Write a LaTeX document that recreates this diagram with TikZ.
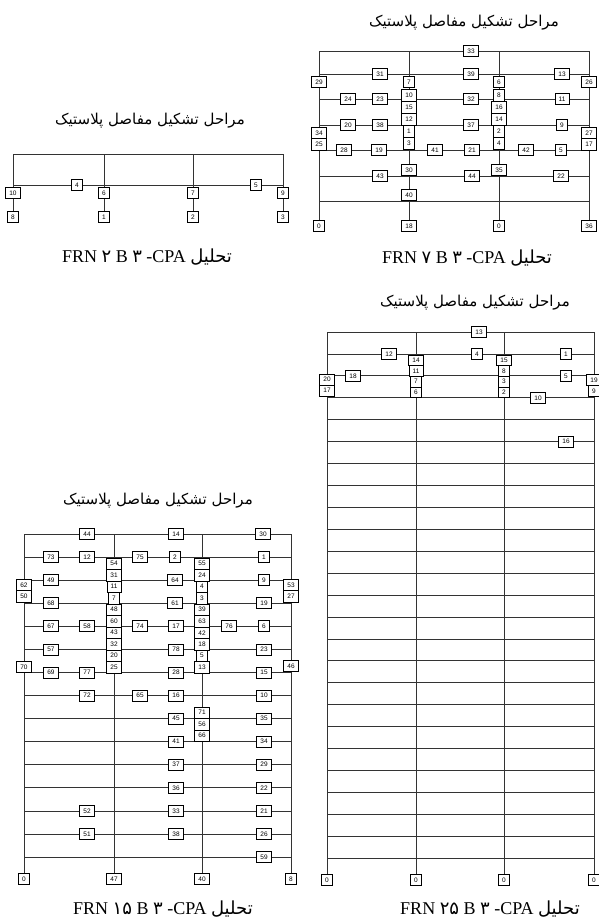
\documentclass[tikz,border=0pt]{standalone}
\usepackage{fontspec}
\usepackage{tikz}
\setmainfont{Liberation Serif}
\newfontfamily\numfont{Liberation Sans}
\newfontfamily\arabicfont[Script=Arabic]{DejaVu Sans}
\TeXXeTstate=1
\tikzset{
    member/.style = {line width = 0.7pt, black!80},
    hinge/.style = {draw, fill = white, line width = 0.6pt, inner xsep = 3.8pt, inner ysep = 0pt,
        minimum height = 11pt, font = \numfont\fontsize{6.5}{6.5}\selectfont},
    stagetitle/.style = {font = \arabicfont\fontsize{15}{15}\selectfont},
    framecaption/.style = {font = \fontsize{18}{18}\selectfont}
}
\newcommand{\hingetitle}{\beginR مراحل تشکیل مفاصل پلاستیک\endR}
\newcommand{\frncaption}[1]{FRN {\arabicfont #1} B {\arabicfont ۳} -CPA {\arabicfont\beginR تحلیل\endR}}

\begin{document}
\begin{tikzpicture}[x = 1pt, y = -1pt]
    \useasboundingbox (0,0) rectangle (599,921);

    \foreach \x/\s [count=\i] in {13/8, 104/1, 193/2, 283/3} {
        \coordinate (a-t\i) at (\x,154);
        \node at (\x,217) [hinge] (a-s\i) {\s};
        \draw [member] (a-t\i) -- (a-s\i);
    }
    \foreach \y [count=\r] in {154,185} {
        \coordinate (a-l\r) at (13,\y);
        \coordinate (a-r\r) at (283,\y);
        \draw [member] (a-l\r) -- (a-r\r);
    }
    \foreach \x/\y/\h in {13/193/10, 104/193/6, 193/193/7, 283/193/9, 77/185/4, 256/185/5}
        \node at (\x,\y) [hinge] (a-h\h) {\h};
    \node at (150,121) [stagetitle] (a-title) {\hingetitle};
    \node at (147,257) [framecaption] (a-caption) {\frncaption{۲}};

    \foreach \x/\s [count=\i] in {319/0, 409/18, 499/0, 589/36} {
        \coordinate (b-t\i) at (\x,51);
        \node at (\x,226) [hinge] (b-s\i) {\s};
        \draw [member] (b-t\i) -- (b-s\i);
    }
    \foreach \y [count=\r] in {51,74,99,125,150,176,201} {
        \coordinate (b-l\r) at (319,\y);
        \coordinate (b-r\r) at (589,\y);
        \draw [member] (b-l\r) -- (b-r\r);
    }
    \foreach \x/\y/\h in {471/51/33, 380/74/31, 471/74/39, 562/74/13,
        348/99/24, 380/99/23, 471/99/32, 562/99/11, 348/125/20, 380/125/38, 471/125/37, 562/125/9,
        344/150/28, 379/150/19, 435/150/41, 472/150/21, 526/150/42, 561/150/5,
        380/176/43, 472/176/44, 561/176/22,
        319/82/29, 409/82/7, 499/82/6, 589/82/26, 409/170/30, 499/170/35, 409/195/40}
        \node at (\x,\y) [hinge] (b-h\h) {\h};
    \foreach \h [count=\i] in {10,15,12,1,3}
        \node at (409,{83+12*\i}) [hinge, minimum height = 12pt] (b-h\h) {\h};
    \foreach \h [count=\i] in {8,16,14,2,4}
        \node at (499,{83+12*\i}) [hinge, minimum height = 12pt] (b-h\h) {\h};
    \foreach \h/\k [count=\i] in {34/27,25/17} {
        \node at (319,{121.5+11.5*\i}) [hinge, minimum height = 11.5pt] (b-h\h) {\h};
        \node at (589,{121.5+11.5*\i}) [hinge, minimum height = 11.5pt] (b-h\k) {\k};
    }
    \node at (464,23) [stagetitle] (b-title) {\hingetitle};
    \node at (467,258) [framecaption] (b-caption) {\frncaption{۷}};

    \foreach \x/\s [count=\i] in {24/0, 114/47, 202/40, 291/8} {
        \coordinate (c-t\i) at (\x,534);
        \node at (\x,879) [hinge] (c-s\i) {\s};
        \draw [member] (c-t\i) -- (c-s\i);
    }
    \foreach \r in {1,...,15} {
        \coordinate (c-l\r) at (24,{534+23.07*(\r-1)});
        \coordinate (c-r\r) at (291,{534+23.07*(\r-1)});
        \draw [member] (c-l\r) -- (c-r\r);
    }
    \foreach \r/\x/\h in {1/87/44, 1/176/14, 1/263/30,
        2/51/73, 2/87/12, 2/140/75, 2/175/2, 2/264/1,
        3/51/49, 3/175/64, 3/264/9, 4/51/68, 4/175/61, 4/264/19,
        5/51/67, 5/87/58, 5/140/74, 5/176/17, 5/229/76, 5/264/6,
        6/51/57, 6/176/78, 6/264/23, 7/51/69, 7/87/77, 7/176/28, 7/264/15,
        8/87/72, 8/140/65, 8/176/16, 8/264/10, 9/176/45, 9/264/35,
        10/176/41, 10/264/34, 11/176/37, 11/264/29, 12/176/36, 12/264/22,
        13/87/52, 13/176/33, 13/264/21, 14/87/51, 14/176/38, 14/264/26, 15/264/59}
        \node at (\x,{534+23.07*(\r-1)}) [hinge] (c-h\h) {\h};
    \foreach \h [count=\i] in {54,31,11,7,48,60,43,32,20,25}
        \node at (114,{552.25+11.5*\i}) [hinge, minimum height = 11.5pt] (c-h\h) {\h};
    \foreach \h [count=\i] in {55,24,4,3,39,63,42,18,5,13}
        \node at (202,{552.25+11.5*\i}) [hinge, minimum height = 11.5pt] (c-h\h) {\h};
    \foreach \h [count=\i] in {71,56,66}
        \node at (202,{701.25+11.5*\i}) [hinge, minimum height = 11.5pt] (c-h\h) {\h};
    \foreach \h/\k [count=\i] in {62/53,50/27} {
        \node at (24,{573.5+11.5*\i}) [hinge, minimum height = 11.5pt] (c-h\h) {\h};
        \node at (291,{573.5+11.5*\i}) [hinge, minimum height = 11.5pt] (c-h\k) {\k};
    }
    \node at (24,667) [hinge] (c-h70) {70};
    \node at (291,666) [hinge] (c-h46) {46};
    \node at (158,501) [stagetitle] (c-title) {\hingetitle};
    \node at (163,909) [framecaption] (c-caption) {\frncaption{۱۵}};

    \foreach \x [count=\i] in {327, 416, 504, 594} {
        \coordinate (d-t\i) at (\x,332);
        \node at (\x,880) [hinge] (d-s\i) {0};
        \draw [member] (d-t\i) -- (d-s\i);
    }
    \foreach \r in {1,...,25} {
        \coordinate (d-l\r) at (327,{332+21.92*(\r-1)});
        \coordinate (d-r\r) at (594,{332+21.92*(\r-1)});
        \draw [member] (d-l\r) -- (d-r\r);
    }
    \foreach \r/\x/\h in {1/479/13, 2/389/12, 2/477/4, 2/566/1, 3/353/18, 3/566/5, 4/538/10, 6/566/16}
        \node at (\x,{332+21.92*(\r-1)}) [hinge] (d-h\h) {\h};
    \foreach \h/\k [count=\i] in {14/15,11/8,7/3,6/2} {
        \node at (416,{349.7+10.6*\i}) [hinge, minimum height = 10.6pt] (d-h\h) {\h};
        \node at (504,{349.7+10.6*\i}) [hinge, minimum height = 10.6pt] (d-h\k) {\k};
    }
    \foreach \h/\k [count=\i] in {20/19,17/9} {
        \node at (327,{368.5+11*\i}) [hinge, minimum height = 11pt] (d-h\h) {\h};
        \node at (594,{369+11*\i}) [hinge, minimum height = 11pt] (d-h\k) {\k};
    }
    \node at (475,303) [stagetitle] (d-title) {\hingetitle};
    \node at (490,909) [framecaption] (d-caption) {\frncaption{۲۵}};
\end{tikzpicture}
\end{document}
